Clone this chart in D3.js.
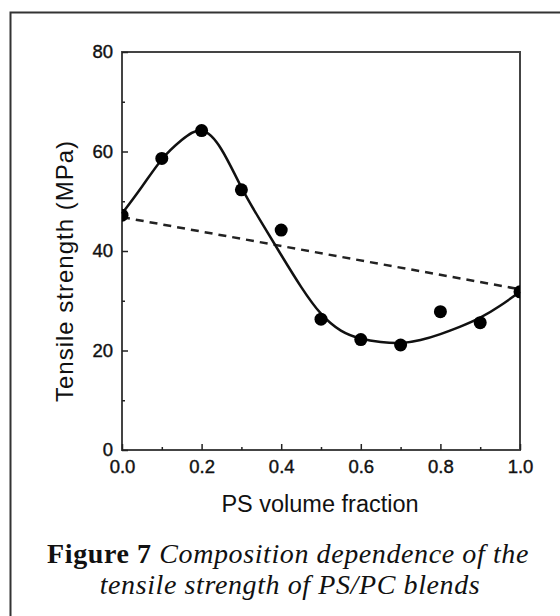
<!doctype html>
<meta charset=utf8>
<title>Tensile strength of PS/PC blends</title>
<style>
  html, body {
    margin: 0;
    background: #fff;
  }

  svg {
    display: block;
  }

  .axis path,
  .axis line {
    stroke: #222;
  }

  .axis text {
    font-family: "Liberation Sans", Arial, sans-serif;
    font-size: 18.5px;
    fill: #111;
    stroke: #111;
    stroke-width: 0.4;
  }

  .title {
    font-family: "Liberation Sans", Arial, sans-serif;
    font-size: 23.5px;
    fill: #111;
  }

  .caption {
    font-family: "Liberation Serif", "Times New Roman", serif;
    font-size: 28px;
    letter-spacing: 0.6px;
    fill: #111;
  }
</style>
<svg width=560 height=616></svg>
<script src=https://d3js.org/d3.v7.min.js></script>
<script>
  // measured points
  var psFraction = [0, 0.1, 0.2, 0.3, 0.4, 0.5, 0.6, 0.7, 0.8, 0.9, 1.0];
  var tensile = [47.2, 58.6, 64.2, 52.3, 44.2, 26.3, 22.2, 21.1, 27.8, 25.6, 31.8];

  // fitted curve
  var fitX = [0, 0.05, 0.1, 0.15, 0.2, 0.25, 0.3, 0.35, 0.4, 0.45, 0.5,
    0.55, 0.6, 0.65, 0.7, 0.75, 0.8, 0.85, 0.9, 0.95, 1.0];
  var fitY = [47.5, 52.9, 58.4, 62.3, 64.2, 60.4, 52.8, 45.8, 39.2, 32.8, 27.4,
    24.0, 22.4, 21.7, 21.5, 22.1, 23.3, 24.8, 26.6, 29.0, 31.8];

  // additivity (dashed) line
  var mixX = [0, 1];
  var mixY = [46.8, 32.3];

  var xMajor = [0, 0.2, 0.4, 0.6, 0.8, 1.0];
  var xMinor = [0.1, 0.3, 0.5, 0.7, 0.9];
  var yMajor = [0, 20, 40, 60, 80];
  var yMinor = [10, 30, 50, 70];

  var svg = d3.select('svg');
  var margin = {top: 52, left: 122, right: 40, bottom: 166};
  var width = 560 - margin.left - margin.right;
  var height = 616 - margin.top - margin.bottom;

  // outer figure frame (left and top edges only)
  svg.append('path')
    .attr('d', 'M10.5,616V12.5H560')
    .attr('fill', 'none')
    .attr('stroke', '#333')
    .attr('stroke-width', 2);

  var g = svg.append('g').attr('transform', 'translate(' + margin.left + ',' + margin.top + ')');

  var x = d3.scaleLinear().domain([0, 1]).range([0, width]);
  var y = d3.scaleLinear().domain([0, 80]).range([height, 0]);

  g.append('clipPath').attr('id', 'plot')
    .append('rect').attr('width', width).attr('height', height);

  // frame box
  g.append('rect')
    .attr('width', width)
    .attr('height', height)
    .attr('fill', 'none')
    .attr('stroke', '#444')
    .attr('stroke-width', 2);

  g.append('g')
    .attr('class', 'axis')
    .attr('transform', 'translate(0,' + height + ')')
    .call(d3.axisBottom(x).tickValues(xMajor).tickFormat(d3.format('.1f')).tickSizeInner(-6).tickSizeOuter(0).tickPadding(10))
    .call(function(a) { a.select('.domain').remove(); });

  g.append('g')
    .attr('class', 'axis')
    .attr('transform', 'translate(0,' + height + ')')
    .call(d3.axisBottom(x).tickValues(xMinor).tickFormat('').tickSizeInner(-3).tickSizeOuter(0))
    .call(function(a) { a.select('.domain').remove(); });

  g.append('g')
    .attr('class', 'axis')
    .call(d3.axisLeft(y).tickValues(yMajor).tickSizeInner(-6).tickSizeOuter(0).tickPadding(9))
    .call(function(a) { a.select('.domain').remove(); });

  g.append('g')
    .attr('class', 'axis')
    .call(d3.axisLeft(y).tickValues(yMinor).tickFormat('').tickSizeInner(-3).tickSizeOuter(0))
    .call(function(a) { a.select('.domain').remove(); });

  g.selectAll('.axis line').attr('stroke-width', 1.5);

  var line = d3.line()
    .x(function(d) { return x(d[0]); })
    .y(function(d) { return y(d[1]); });

  g.append('path')
    .datum(d3.zip(mixX, mixY))
    .attr('d', line)
    .attr('fill', 'none')
    .attr('stroke', '#222')
    .attr('stroke-width', 2.5)
    .attr('stroke-dasharray', '8,6');

  g.append('path')
    .datum(d3.zip(fitX, fitY))
    .attr('d', line.curve(d3.curveNatural))
    .attr('fill', 'none')
    .attr('stroke', '#111')
    .attr('stroke-width', 2.5);

  g.append('g')
    .attr('clip-path', 'url(#plot)')
    .selectAll('circle')
    .data(d3.zip(psFraction, tensile))
    .enter()
    .append('circle')
    .attr('cx', function(d) { return x(d[0]); })
    .attr('cy', function(d) { return y(d[1]); })
    .attr('r', 6.5)
    .attr('fill', '#000');

  g.append('text')
    .attr('class', 'title')
    .attr('transform', 'translate(-49,' + (271 - margin.top) + ') rotate(-90)')
    .attr('text-anchor', 'middle')
    .style('font-size', '24px')
    .style('letter-spacing', '1px')
    .text('Tensile strength (MPa)');

  svg.append('text')
    .attr('class', 'title')
    .attr('x', 320)
    .attr('y', 512)
    .attr('text-anchor', 'middle')
    .text('PS volume fraction');

  var cap = svg.append('text')
    .attr('class', 'caption')
    .attr('text-anchor', 'middle');

  var line1 = cap.append('tspan').attr('x', 288).attr('y', 563);
  line1.append('tspan').attr('font-weight', 'bold').text('Figure 7 ');
  line1.append('tspan').attr('font-style', 'italic').text('Composition dependence of the');

  cap.append('tspan')
    .attr('x', 290)
    .attr('y', 594)
    .attr('font-style', 'italic')
    .text('tensile strength of PS/PC blends');
</script>
